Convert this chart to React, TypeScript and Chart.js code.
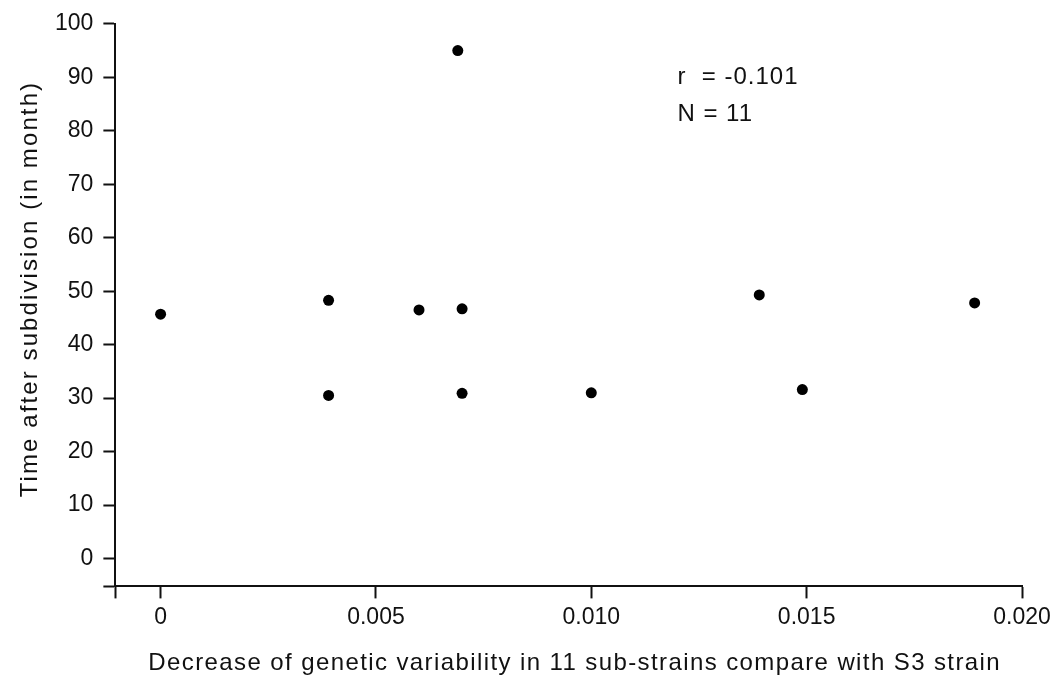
import React, { useEffect, useRef } from 'react';
import { Chart, registerables } from 'chart.js';

Chart.register(...registerables);

// ---- data ----
const xValues = [0, 0.0039, 0.0039, 0.006, 0.0069, 0.007, 0.007, 0.010, 0.0139, 0.0149, 0.0189];
const yValues = [45.7, 48.3, 30.5, 46.5, 95, 46.7, 30.9, 31, 49.3, 31.6, 47.8];

const xTickValues = [0, 0.005, 0.01, 0.015, 0.02];
const xTickLabels = ['0', '0.005', '0.010', '0.015', '0.020'];
const yTickValues = [0, 10, 20, 30, 40, 50, 60, 70, 80, 90, 100];
const yTickLabels = ['0', '10', '20', '30', '40', '50', '60', '70', '80', '90', '100'];

const xRange = [-0.00105, 0.02];
const yRange = [-5.2, 100];

const xTitle = 'Decrease of genetic variability in 11 sub-strains compare with S3 strain';
const yTitle = 'Time after subdivision (in month)';
const statLines = ['r  = -0.101', 'N = 11'];
const statAnchor = [0.012, 88.8];

const FONT = '"Liberation Sans", Arial, Helvetica, sans-serif';
const INK = '#111111';

const textPlugin = {
  id: 'manualText',
  afterDraw(chart: any) {
    const { ctx, chartArea, scales } = chart;
    ctx.save();
    ctx.fillStyle = INK;

    // x title
    ctx.font = `24px ${FONT}`;
    (ctx as any).letterSpacing = '1.4px';
    ctx.textAlign = 'center';
    ctx.textBaseline = 'alphabetic';
    ctx.fillText(xTitle, (chartArea.left + chartArea.right) / 2 + 6, chartArea.bottom + 84);

    // y title
    ctx.save();
    (ctx as any).letterSpacing = '2.1px';
    ctx.translate(chartArea.left - 78, (chartArea.top + chartArea.bottom) / 2 - 16);
    ctx.rotate(-Math.PI / 2);
    ctx.fillText(yTitle, 0, 0);
    ctx.restore();

    // statistics annotation
    (ctx as any).letterSpacing = '1px';
    ctx.textAlign = 'left';
    const sx = scales.x.getPixelForValue(statAnchor[0]);
    const sy = scales.y.getPixelForValue(statAnchor[1]);
    statLines.forEach((line, i) => {
      ctx.fillText(line, sx, sy + i * 37);
    });
    ctx.restore();
  },
};

export default function App() {
  const canvasRef = useRef<HTMLCanvasElement | null>(null);

  useEffect(() => {
    const canvas = canvasRef.current;
    if (!canvas) return;
    const tickFont = { family: FONT, size: 23 };
    const chart = new Chart(canvas, {
      type: 'scatter',
      data: {
        datasets: [
          {
            data: xValues.map((x, i) => ({ x, y: yValues[i] })),
            backgroundColor: '#000000',
            borderWidth: 0,
            pointRadius: 5.5,
            pointHoverRadius: 5.5,
          },
        ],
      },
      options: {
        responsive: false,
        animation: false,
        devicePixelRatio: 1,
        layout: { padding: { left: 45, right: 34, top: 18, bottom: 42 } },
        plugins: {
          legend: { display: false },
          tooltip: { enabled: false },
        },
        scales: {
          x: {
            type: 'linear',
            position: 'bottom',
            min: xRange[0],
            max: xRange[1],
            afterBuildTicks: (s: any) => {
              s.ticks = [xRange[0], ...xTickValues].map((v) => ({ value: v }));
            },
            ticks: {
              autoSkip: false,
              maxRotation: 0,
              minRotation: 0,
              padding: 5,
              color: INK,
              font: tickFont,
              callback: (v: any) => {
                const i = xTickValues.indexOf(v);
                return i >= 0 ? xTickLabels[i] : '';
              },
            },
            grid: {
              drawOnChartArea: false,
              drawTicks: true,
              tickLength: 12,
              tickWidth: 2,
              tickColor: INK,
            },
            border: { display: true, color: INK, width: 2 },
          },
          y: {
            type: 'linear',
            min: yRange[0],
            max: yRange[1],
            afterBuildTicks: (s: any) => {
              s.ticks = [yRange[0], ...yTickValues].map((v) => ({ value: v }));
            },
            ticks: {
              autoSkip: false,
              padding: 10,
              color: INK,
              font: tickFont,
              callback: (v: any) => {
                const i = yTickValues.indexOf(v);
                return i >= 0 ? yTickLabels[i] : '';
              },
            },
            grid: {
              drawOnChartArea: false,
              drawTicks: true,
              tickLength: 12,
              tickWidth: 2,
              tickColor: INK,
            },
            border: { display: true, color: INK, width: 2 },
          },
        },
      },
      plugins: [textPlugin],
    });
    return () => chart.destroy();
  }, []);

  return (
    <div style={{ position: 'fixed', left: 0, top: 0, width: 1056, height: 678, background: '#ffffff' }}>
      <canvas ref={canvasRef} width={1056} height={678} style={{ display: 'block', width: 1056, height: 678 }} />
    </div>
  );
}
